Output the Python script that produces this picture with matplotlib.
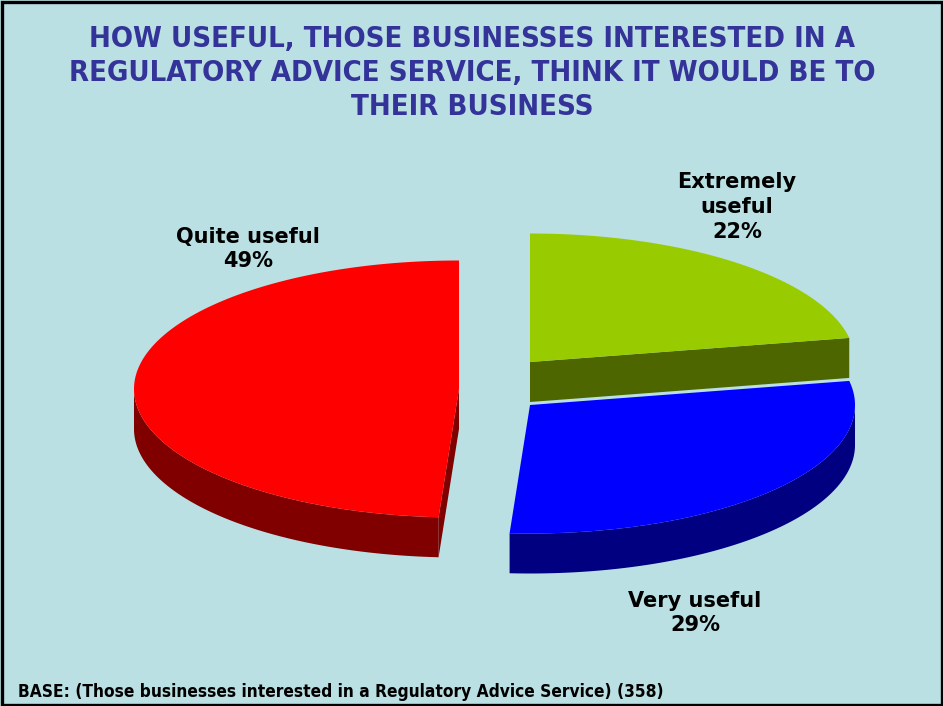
import numpy as np
import matplotlib.pyplot as plt
from matplotlib.patches import Polygon, Rectangle

# survey results: how useful a regulatory advice service would be
labels = ['Extremely\nuseful', 'Very useful', 'Quite useful']
shares = [22, 29, 49]
top_colors = ['#99CC00', '#0000FF', '#FF0000']
side_colors = ['#4D6600', '#000080', '#800000']

title = ('HOW USEFUL, THOSE BUSINESSES INTERESTED IN A\n'
         'REGULATORY ADVICE SERVICE, THINK IT WOULD BE TO\n'
         'THEIR BUSINESS')
footnote = 'BASE: (Those businesses interested in a Regulatory Advice Service) (358)'

BG = '#BAE0E3'
W, H = 943, 706

# pie geometry (pixels): radii of the tilted ellipse, thickness, centre
RX, RY, DEPTH = 325, 128.5, 40
CX, CY = 495, 389
# how far each slice is pulled out of the centre
explode = [(35, -27), (35, 16), (-36, 0)]
label_pos = [(737, 207), (695, 613), (248, 249)]


def pt(cx, cy, ang):
    # angle in degrees, clockwise from 12 o'clock
    r = np.radians(ang)
    return cx + RX * np.sin(r), cy - RY * np.cos(r)


def arc(cx, cy, a0, a1, n=200):
    t = np.linspace(a0, a1, n)
    x, y = pt(cx, cy, t)
    return np.column_stack([x, y])


fig = plt.figure(figsize=(W / 100, H / 100), dpi=100)
fig.patch.set_facecolor(BG)
ax = fig.add_axes([0, 0, 1, 1])
ax.set_xlim(0, W)
ax.set_ylim(H, 0)
ax.axis('off')

angles = np.concatenate([[0], np.cumsum(shares) / sum(shares) * 360])
sides, tops = [], []
for i, (share, tc, sc) in enumerate(zip(shares, top_colors, side_colors)):
    a0, a1 = angles[i], angles[i + 1]
    cx, cy = CX + explode[i][0], CY + explode[i][1]
    down = np.array([0, DEPTH])

    # curved outer wall, only the front half shows
    w0, w1 = max(a0, 90), min(a1, 270)
    if w1 > w0:
        rim = arc(cx, cy, w0, w1)
        sides.append(Polygon(np.vstack([rim, rim[::-1] + down]), closed=True,
                             facecolor=sc, edgecolor='none'))
    # flat cut faces that turn towards the viewer
    for ang, visible in ((a0, np.sin(np.radians(a0)) < -1e-6),
                         (a1, np.sin(np.radians(a1)) > 1e-6)):
        if visible:
            p = np.array(pt(cx, cy, ang))
            c = np.array([cx, cy])
            sides.append(Polygon([c, p, p + down, c + down], closed=True,
                                 facecolor=sc, edgecolor='none'))

    top = np.vstack([[cx, cy], arc(cx, cy, a0, a1)])
    tops.append(Polygon(top, closed=True, facecolor=tc, edgecolor='none'))

for p in sides + tops:
    ax.add_patch(p)

for lab, share, (lx, ly) in zip(labels, shares, label_pos):
    ax.text(lx, ly, f'{lab}\n{share}%', ha='center', va='center',
            fontsize=15, fontweight='bold', color='black',
            family='DejaVu Sans', linespacing=1.3)

ax.text(472, 73, title, ha='center', va='center', fontsize=21,
        fontweight='bold', color='#333399', family='DejaVu Sans',
        fontstretch='condensed', linespacing=1.28)
ax.text(18, 692, footnote, ha='left', va='center', fontsize=12.4,
        fontweight='bold', color='black', family='DejaVu Sans',
        fontstretch='condensed')

# black frame round the whole chart
ax.add_patch(Rectangle((1.5, 1.5), W - 3, H - 3, fill=False,
                       edgecolor='black', linewidth=2.4))

fig.savefig('out.png', dpi=100, facecolor=BG)
